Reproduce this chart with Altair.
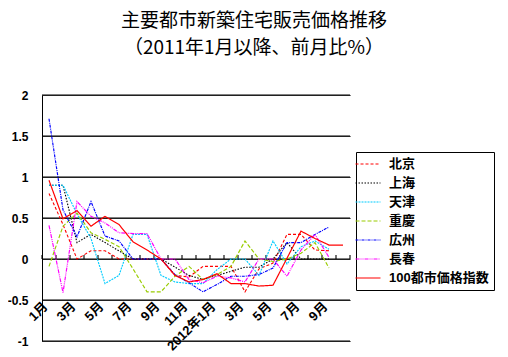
import json
import altair as alt
import pandas as pd

# ---- data ----
months = ["2011-01", "2011-02", "2011-03", "2011-04", "2011-05", "2011-06",
          "2011-07", "2011-08", "2011-09", "2011-10", "2011-11", "2011-12",
          "2012-01", "2012-02", "2012-03", "2012-04", "2012-05", "2012-06",
          "2012-07", "2012-08", "2012-09", "2012-10"]
tick_labels = ["1月", "3月", "5月", "7月", "9月", "11月", "2012年1月",
               "3月", "5月", "7月", "9月"]
y_ticks = [-1, -0.5, 0, 0.5, 1, 1.5, 2]
series_names = ["北京", "上海", "天津", "重慶", "広州", "長春", "100都市価格指数"]

beijing = [0.80, 0.42, 0.00, 0.10, 0.10, 0.00, 0.00, 0.00, 0.00, -0.20, -0.22,
           -0.09, -0.09, -0.09, -0.40, -0.12, -0.05, 0.30, 0.30, 0.11, 0.10, None]
shanghai = [0.90, 0.90, 0.20, 0.30, 0.20, 0.10, 0.00, 0.00, 0.00, -0.10, -0.20,
            -0.25, -0.20, -0.15, -0.10, -0.10, 0.00, 0.20, 0.00, 0.00, 0.00, None]
tianjin = [0.90, 0.90, 0.55, 0.25, -0.30, -0.20, 0.30, 0.30, -0.20, -0.28, -0.30,
           -0.30, -0.13, 0.00, 0.00, -0.20, 0.22, -0.06, 0.15, 0.22, 0.12, None]
chongqing = [-0.09, 0.40, 0.56, 0.32, 0.24, 0.15, -0.12, -0.40, -0.40, -0.21, -0.09,
             -0.25, -0.19, -0.09, 0.22, 0.00, -0.03, 0.00, 0.07, 0.20, -0.11, None]
guangzhou = [1.71, 0.60, 0.27, 0.70, 0.28, 0.22, 0.00, 0.00, 0.00, -0.19, -0.29,
             -0.40, -0.31, -0.21, -0.21, -0.19, -0.11, 0.20, 0.20, 0.30, 0.39, None]
changchun = [0.41, -0.41, 0.70, 0.52, 0.44, 0.32, 0.31, 0.31, 0.00, 0.00, -0.25,
             -0.29, -0.21, -0.23, -0.28, 0.00, 0.00, -0.21, 0.11, 0.30, 0.02, None]
index100 = [0.96, 0.49, 0.59, 0.40, 0.52, 0.42, 0.21, 0.11, 0.00, -0.20, -0.28,
            -0.25, -0.18, -0.30, -0.30, -0.33, -0.32, 0.01, 0.34, 0.25, 0.17, 0.17]

all_series = [beijing, shanghai, tianjin, chongqing, guangzhou, changchun, index100]

# one table: gridlines and zero-line ticks first (drawn underneath), then series
GRID = "_grid"
x_lo, x_hi = -0.5, len(months) - 0.5
rows = []
for v in y_ticks:
    for xx in (x_lo, x_hi):
        rows.append({"idx": xx, "city": GRID, "value": v, "g": "g%s" % v})
for i in range(len(months) + 1):
    for vv in (0.0, 0.05):
        rows.append({"idx": i - 0.5, "city": GRID, "value": vv, "g": "t%d" % i})
for name, vals in zip(series_names, all_series):
    for i, v in enumerate(vals):
        if v is not None:
            rows.append({"idx": i, "city": name, "value": v, "g": name})
df = pd.DataFrame(rows)

# ---- styles ----
colors = ["#FF0000", "#000000", "#00CCFF", "#99CC00", "#0000FF", "#FF00FF", "#FF0000"]
dashes = [[3, 2], [1.5, 1.5], [2, 1], [4, 2], [3, 1, 1, 1], [4, 1, 1, 1, 1, 1], [1, 0]]
widths = [1.2, 1.5, 1.3, 1.3, 1.3, 1.3, 3.5]

dom = [GRID] + series_names
col_range = ["#000000"] + colors
dash_range = [[1, 0]] + dashes
width_range = [1.1] + widths

FONT = "Liberation Sans, Noto Sans CJK JP"
W, H = 308, 246

label_expr = "%s[datum.value / 2]" % json.dumps(tick_labels, ensure_ascii=False)

xscale = alt.Scale(domain=[x_lo, x_hi], nice=False, zero=False)
yscale = alt.Scale(domain=[-1, 2], nice=False, zero=False)

x_axis = alt.Axis(orient="bottom", offset=-41, values=list(range(0, 21, 2)),
                  labelExpr=label_expr, labelAngle=-45, labelAlign="right",
                  labelBaseline="middle", domain=False, ticks=False, grid=False,
                  labelPadding=4, labelOffset=-4, labelFont=FONT, labelFontSize=13,
                  labelFontWeight="bold", labelColor="black",
                  labelOverlap=False, labelFlush=False, title=None)
y_axis = alt.Axis(values=y_ticks, grid=True, gridColor="#000000", gridWidth=1,
                  gridOpacity=1, gridDash=[1, 0],
                  domain=True, domainColor="black", ticks=False,
                  labelExpr="datum.value + ''", labelFont=FONT,
                  labelFontSize=12, labelFontWeight="bold",
                  labelColor="black", labelPadding=14, title=None)

chart = alt.Chart(df).mark_line(opacity=1).encode(
    x=alt.X("idx:Q", scale=xscale, axis=x_axis),
    y=alt.Y("value:Q", scale=yscale, axis=y_axis),
    color=alt.Color("city:N", scale=alt.Scale(domain=dom, range=col_range),
                    legend=alt.Legend(title=None, values=series_names)),
    strokeDash=alt.StrokeDash("city:N", scale=alt.Scale(domain=dom, range=dash_range),
                              legend=alt.Legend(title=None, values=series_names)),
    strokeWidth=alt.StrokeWidth("city:N", scale=alt.Scale(domain=dom, range=width_range),
                                legend=alt.Legend(title=None, values=series_names)),
    detail="g:N",
).properties(
    width=W, height=H,
    title=alt.Title(
        text=["主要都市新築住宅販売価格推移", "（2011年1月以降、前月比%）"],
        font="Noto Sans CJK JP", fontSize=19, fontWeight="normal", color="black",
        anchor="middle", frame="group", dx=58, offset=31, lineHeight=27,
    ),
    autosize=alt.AutoSizeParams(type="none"),
    padding={"left": 34, "top": 87, "right": 150, "bottom": 16},
).configure_view(stroke="transparent").configure_legend(
    orient="none", legendX=314, legendY=57,
    strokeColor="black", fillColor="white", padding=5,
    symbolType="M-2,0L2,0", symbolSize=156, labelOffset=14,
    labelFont=FONT, labelFontSize=13, labelFontWeight="bold", labelColor="black",
    rowPadding=5,
)

chart.save("out.html", embed_options={"renderer": "svg", "actions": False})
